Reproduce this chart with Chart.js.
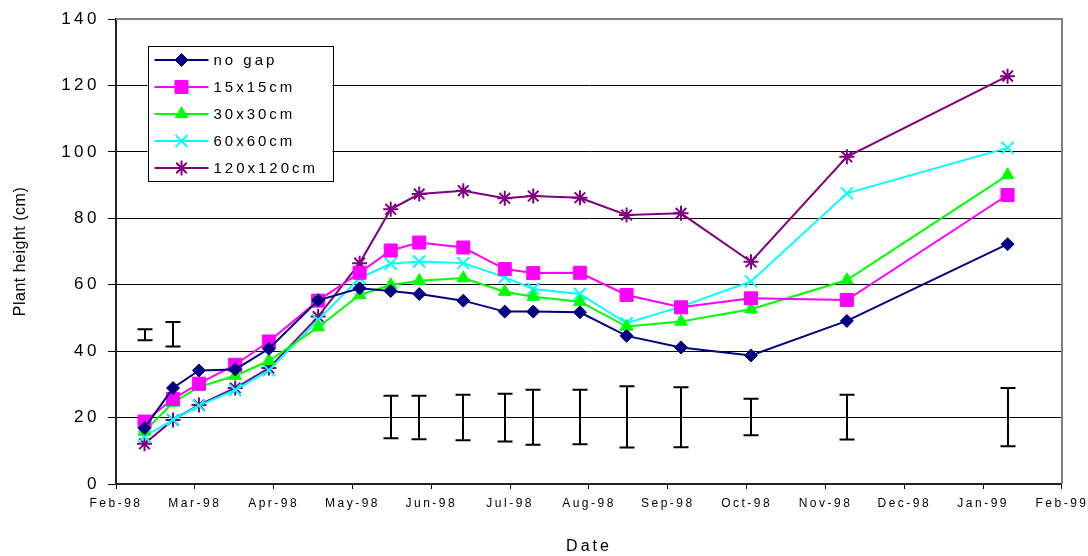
<!DOCTYPE html>
<html><head><meta charset="utf-8">
<script src="https://cdn.jsdelivr.net/npm/chart.js@4.4.1/dist/chart.umd.min.js"></script>
<style>html,body{margin:0;padding:0;background:#fff;}#wrap{width:1088px;height:556px;}</style>
</head><body><div id="wrap"><canvas id="c" width="1088" height="556"></canvas></div>
<script>
const sampleDates = ['1998-02-12','1998-02-23','1998-03-05','1998-03-19','1998-04-01','1998-04-20','1998-05-06','1998-05-18','1998-05-29','1998-06-15','1998-07-01','1998-07-12','1998-07-30','1998-08-17','1998-09-07','1998-10-04','1998-11-10','1999-01-11'];
const noGap  = [16.8, 28.9, 34.2, 34.5, 40.7, 55.3, 58.9, 58.1, 57.2, 55.2, 51.9, 51.9, 51.7, 44.6, 41.1, 38.7, 49.1, 72.2];
const cm15   = [18.8, 25.6, 30.2, 35.9, 42.9, 55.2, 63.6, 70.3, 72.7, 71.2, 64.7, 63.5, 63.6, 56.9, 53.2, 55.9, 55.4, 87.0];
const cm30   = [15.8, 24.5, 29.2, 32.6, 37.1, 47.2, 56.9, 59.9, 61.2, 62.0, 57.9, 56.4, 54.9, 47.4, 48.9, 52.6, 61.4, 93.0];
const cm60   = [14.3, 19.3, 23.6, 28.3, 34.2, 49.4, 62.0, 66.3, 67.0, 66.5, 62.3, 58.7, 57.2, 48.4, 53.4, 61.0, 87.5, 101.2];
const cm120  = [12.1, 19.3, 23.8, 28.9, 34.9, 50.4, 66.5, 82.7, 87.3, 88.3, 86.0, 86.7, 86.2, 81.0, 81.5, 66.9, 98.5, 122.8];
const seriesNames = ['no gap','15x15cm','30x30cm','60x60cm','120x120cm'];

const errDates = ['1998-02-12','1998-02-23','1998-05-18','1998-05-29','1998-06-15','1998-07-01','1998-07-12','1998-07-30','1998-08-17','1998-09-07','1998-10-04','1998-11-10','1999-01-11'];
const errLow  = [43.3, 41.4, 13.8, 13.5, 13.2, 12.8, 11.8, 12.0, 11.0, 11.1, 14.7, 13.4, 11.4];
const errHigh = [46.6, 48.8, 26.6, 26.6, 26.9, 27.2, 28.4, 28.4, 29.4, 29.1, 25.7, 26.9, 28.9];

const monthLabels = ['Feb-98','Mar-98','Apr-98','May-98','Jun-98','Jul-98','Aug-98','Sep-98','Oct-98','Nov-98','Dec-98','Jan-99','Feb-99'];
const yTicks = [0,20,40,60,80,100,120,140];

const FONT = "'Liberation Sans', Arial, sans-serif";
const ORIGIN = Date.UTC(1998,1,1);
const SPAN = 365;
function dayOf(s){const [y,m,d]=s.split('-').map(Number);return (Date.UTC(y,m-1,d)-ORIGIN)/86400000;}
const xs = sampleDates.map(dayOf);
const toPts = vals => vals.map((v,i)=>({x:xs[i],y:v}));

const styles = [
  {color:'#000080', pointStyle:'rectRot', radius:6.5, bw:1},
  {color:'#FF00FF', pointStyle:'rect', radius:9.2, bw:1},
  {color:'#00FF00', pointStyle:'triangle', radius:7.3, bw:1},
  {color:'#00FFFF', pointStyle:'crossRot', radius:8.5, bw:2},
  {color:'#800080', pointStyle:'star', radius:7.5, bw:2}
];
const allVals = [noGap, cm15, cm30, cm60, cm120];
const datasets = allVals.map((vals,i)=>({
  label: seriesNames[i], data: toPts(vals),
  borderColor: styles[i].color, backgroundColor: styles[i].color, borderWidth: 2,
  pointStyle: styles[i].pointStyle, pointRadius: styles[i].radius,
  pointBorderWidth: styles[i].bw, pointBackgroundColor: styles[i].color, pointBorderColor: styles[i].color,
  tension: 0, fill: false
}));

const spacingPlugin = {
  id:'spacing',
  afterLayout(chart){
    Object.values(chart.scales).forEach(s=>{
      if (s._wrapped) return; s._wrapped = true;
      const dl = s.drawLabels, dt = s.drawTitle;
      const lsLab = s.id==='y' ? '3.5px' : '2.5px';
      const lsTit = s.id==='y' ? '0.5px' : '3px';
      s.drawLabels = function(a){const c=this.ctx;c.save();c.letterSpacing=lsLab;dl.call(this,a);c.restore();};
      s.drawTitle = function(a){const c=this.ctx;c.save();c.letterSpacing=lsTit;dt.call(this,a);c.restore();};
    });
  }
};

const framePlugin = {
  id:'frame',
  beforeDatasetsDraw(chart){
    const {ctx, chartArea:a} = chart;
    ctx.save();
    ctx.strokeStyle='#808080'; ctx.lineWidth=2;
    ctx.beginPath();
    ctx.moveTo(a.left, a.top); ctx.lineTo(a.right, a.top); ctx.lineTo(a.right, a.bottom);
    ctx.stroke();
    ctx.restore();
  },
  afterDatasetsDraw(chart){
    const {ctx, scales:{x,y}} = chart;
    ctx.save();
    ctx.strokeStyle='#000'; ctx.lineWidth=2;
    errDates.forEach((d,i)=>{
      const px = Math.round(x.getPixelForValue(dayOf(d)));
      const y1 = y.getPixelForValue(errLow[i]), y2 = y.getPixelForValue(errHigh[i]);
      ctx.beginPath();
      ctx.moveTo(px, y1); ctx.lineTo(px, y2);
      ctx.moveTo(px-7.5, y1); ctx.lineTo(px+7.5, y1);
      ctx.moveTo(px-7.5, y2); ctx.lineTo(px+7.5, y2);
      ctx.stroke();
    });
    ctx.restore();
  },
  afterDraw(chart){
    const {ctx, chartArea:a} = chart;
    const L = a.left + 31.5, T = a.top + 27, W = 185, H = 135;
    ctx.save();
    ctx.fillStyle='#fff'; ctx.fillRect(L,T,W,H);
    ctx.strokeStyle='#000'; ctx.lineWidth=1;
    ctx.strokeRect(Math.round(L)+0.5, Math.round(T)+0.5, W, H);
    chart.data.datasets.forEach((ds,i)=>{
      const cy = T + 14 + i*27;
      ctx.strokeStyle=ds.borderColor; ctx.lineWidth=2;
      ctx.beginPath(); ctx.moveTo(L+7, cy); ctx.lineTo(L+61, cy); ctx.stroke();
      ctx.fillStyle=ds.pointBackgroundColor; ctx.strokeStyle=ds.pointBorderColor; ctx.lineWidth=ds.pointBorderWidth;
      Chart.helpers.drawPoint(ctx, {pointStyle:ds.pointStyle, radius:ds.pointRadius, rotation:0, borderWidth:ds.pointBorderWidth}, L+34, cy);
      ctx.fillStyle='#000'; ctx.font = '15px '+FONT; ctx.letterSpacing='3px';
      ctx.textBaseline='middle'; ctx.textAlign='left';
      ctx.fillText(ds.label, L+66, cy+1);
    });
    ctx.restore();
  }
};

new Chart(document.getElementById('c'), {
  type:'line',
  data:{datasets},
  options:{
    responsive:false, animation:false, devicePixelRatio:1,
    layout:{padding:{top:19,right:26,left:0,bottom:0}},
    plugins:{legend:{display:false}, tooltip:{enabled:false}},
    scales:{
      x:{
        type:'linear', min:0, max:SPAN,
        afterBuildTicks: s => { s.ticks = monthLabels.map((_,i)=>({value:i*SPAN/12})); },
        afterFit: s => { s.height = 72; },
        ticks:{callback:(v,i)=>monthLabels[i], autoSkip:false, maxRotation:0, minRotation:0, padding:7, color:'#000', font:{family:FONT,size:12}},
        grid:{drawOnChartArea:false, drawTicks:true, tickLength:5, color:'#000', lineWidth:1},
        border:{color:'#222', width:2},
        title:{display:true, text:'Date', color:'#000', font:{family:FONT,size:16}, padding:{top:0,bottom:0}}
      },
      y:{
        min:0, max:140,
        afterBuildTicks: s => { s.ticks = yTicks.map(v=>({value:v})); },
        afterFit: s => { s.width = 116; },
        ticks:{padding:8, color:'#000', font:{family:FONT,size:17}},
        grid:{color:'#000', lineWidth:1, tickLength:8, drawTicks:true},
        border:{color:'#222', width:2},
        title:{display:true, text:'Plant height (cm)', color:'#000', font:{family:FONT,size:16}, padding:{top:11,bottom:0}}
      }
    }
  },
  plugins:[spacingPlugin, framePlugin]
});
</script></body></html>
